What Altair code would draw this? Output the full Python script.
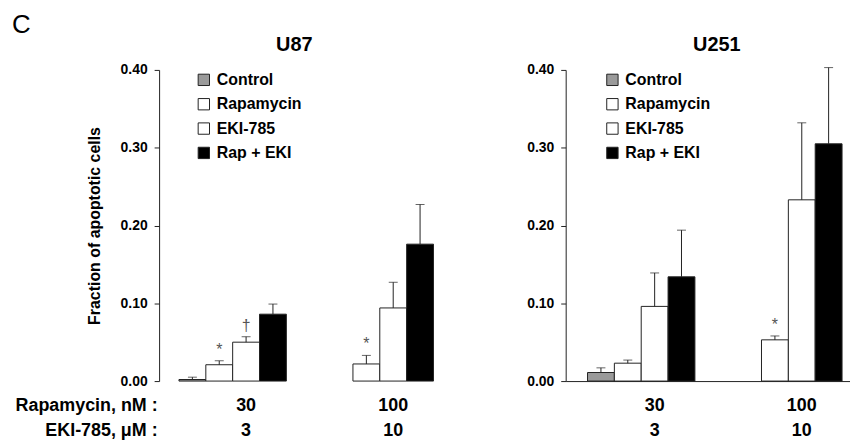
import altair as alt
import pandas as pd

# ---- data ----
rapa_doses = ["30", "100"]
eki_doses = ["3", "10"]
series = ["Control", "Rapamycin", "EKI-785", "Rap + EKI"]
colors = ["#9a9a9a", "#ffffff", "#ffffff", "#000000"]

# U87: values per dose group [30 nM / 3 uM, 100 nM / 10 uM]
u87_control = [0.002, None]
u87_control_err = [0.005, None]
u87_rapamycin = [0.021, 0.022]
u87_rapamycin_err = [0.026, 0.033]
u87_eki = [0.050, 0.094]
u87_eki_err = [0.057, 0.127]
u87_combo = [0.086, 0.176]
u87_combo_err = [0.099, 0.227]
u87_marks_rapamycin = ["*", "*"]
u87_marks_eki = ["\u2020", ""]

# U251
u251_control = [0.011, None]
u251_control_err = [0.017, None]
u251_rapamycin = [0.023, 0.053]
u251_rapamycin_err = [0.027, 0.058]
u251_eki = [0.096, 0.233]
u251_eki_err = [0.139, 0.332]
u251_combo = [0.134, 0.305]
u251_combo_err = [0.194, 0.403]
u251_marks_rapamycin = ["", "*"]
u251_marks_eki = ["", ""]

groups = [f"{r}|{e}" for r, e in zip(rapa_doses, eki_doses)]


def build(means, errs, marks):
    rows = []
    for s, m_list, e_list, k_list in zip(series, means, errs, marks):
        for g, m, e, k in zip(groups, m_list, e_list, k_list):
            if m is None:
                continue
            rows.append({"group": g, "series": s, "mean": m, "err": e, "mark": k})
    return pd.DataFrame(rows)


u87_df = build(
    [u87_control, u87_rapamycin, u87_eki, u87_combo],
    [u87_control_err, u87_rapamycin_err, u87_eki_err, u87_combo_err],
    [["", ""], u87_marks_rapamycin, u87_marks_eki, ["", ""]],
)
u251_df = build(
    [u251_control, u251_rapamycin, u251_eki, u251_combo],
    [u251_control_err, u251_rapamycin_err, u251_eki_err, u251_combo_err],
    [["", ""], u251_marks_rapamycin, u251_marks_eki, ["", ""]],
)

FONT = "Liberation Sans"
H = 313


def panel(df, title, title_x, width, pad_outer, align, legend_x, left):
    x = alt.X(
        "group:N",
        sort=groups,
        scale=alt.Scale(domain=groups, paddingInner=0.27, paddingOuter=pad_outer, align=align),
        axis=alt.Axis(
            title=["Rapamycin, nM :", "EKI-785, \u03bcM :"] if left else None,
            labelExpr="split(datum.label, '|')",
            labelAngle=0,
            labelFontSize=18,
            labelFontWeight="bold",
            labelLineHeight=25,
            labelPadding=16,
            labelOffset=13.5,
            labelBaseline="top",
            ticks=False,
            domain=not left,
            titleX=-2,
            titleY=16,
            titleAlign="right",
            titleBaseline="top",
            titleAngle=0,
            titleFontSize=18,
            titleFontWeight="bold",
            titleLineHeight=25,
        ),
    )
    xo = alt.XOffset("series:N", sort=series, scale=alt.Scale(domain=series, paddingInner=0, paddingOuter=0))
    y_axis = alt.Axis(
        values=[0, 0.1, 0.2, 0.3, 0.4],
        format=".2f",
        labelFontSize=14,
        labelFontWeight="bold",
        tickSize=5,
        labelPadding=7,
        grid=False,
        title="Fraction of apoptotic cells" if left else None,
        titleFontSize=16,
        titleFontWeight="bold",
        titlePadding=18,
    )
    yscale = alt.Scale(domain=[0, 0.4], nice=False)
    base = alt.Chart(df)
    bars = base.mark_bar(stroke="#222", strokeWidth=1).encode(
        x=x,
        xOffset=xo,
        y=alt.Y("mean:Q", scale=yscale, axis=y_axis),
        fill=alt.Fill(
            "series:N",
            sort=series,
            scale=alt.Scale(domain=series, range=colors),
            legend=alt.Legend(
                title=None,
                orient="none",
                legendX=legend_x,
                legendY=2,
                direction="vertical",
                symbolType="square",
                symbolSize=130,
                symbolStrokeColor="#222",
                symbolStrokeWidth=1,
                symbolOpacity=1,
                labelFontSize=16,
                labelFontWeight="bold",
                labelColor="#000",
                labelOffset=5,
                rowPadding=8.5,
            ),
        ),
    )
    rules = base.mark_rule(color="#222", strokeWidth=1).encode(
        x=x, xOffset=xo, y=alt.Y("mean:Q", scale=yscale), y2="err:Q"
    )
    caps = base.mark_tick(color="#222", thickness=1, size=9).encode(
        x=x, xOffset=xo, y=alt.Y("err:Q", scale=yscale)
    )
    marks = base.mark_text(dy=-3, baseline="bottom", fontSize=16, color="#555", fill="#555").encode(
        x=x, xOffset=xo, y=alt.Y("err:Q", scale=yscale), text="mark:N"
    )
    heading = alt.Chart(pd.DataFrame({"t": [title]})).mark_text(
        fontSize=20, fontWeight="bold", align="center", baseline="alphabetic", color="#000"
    ).encode(text="t:N", x=alt.value(title_x), y=alt.value(-19))
    layers = [bars, rules, caps, marks, heading]
    if left:
        letter = alt.Chart(pd.DataFrame({"t": ["C"]})).mark_text(
            fontSize=26, align="left", baseline="alphabetic", color="#000"
        ).encode(text="t:N", x=alt.value(-148), y=alt.value(-37))
        layers.append(letter)
    return alt.layer(*layers).properties(width=width, height=H)


left = panel(u87_df, "U87", 136, 296, 0.135, 0.5, 37, True)
right = panel(u251_df, "U251", 152, 286, 0.1012, 0.733, 39, False)

chart = (
    alt.hconcat(left, right, spacing=73)
    .resolve_scale(fill="independent", x="independent", y="independent", xOffset="independent")
    .resolve_legend(fill="independent")
    .properties(padding={"left": 4, "top": 3, "right": 0, "bottom": 0})
    .configure(font=FONT)
    .configure_view(stroke=None)
    .configure_axis(domainColor="#222", tickColor="#222", labelColor="#000", titleColor="#000")
)

chart.save("out.html", embed_options={"renderer": "svg", "actions": False})
